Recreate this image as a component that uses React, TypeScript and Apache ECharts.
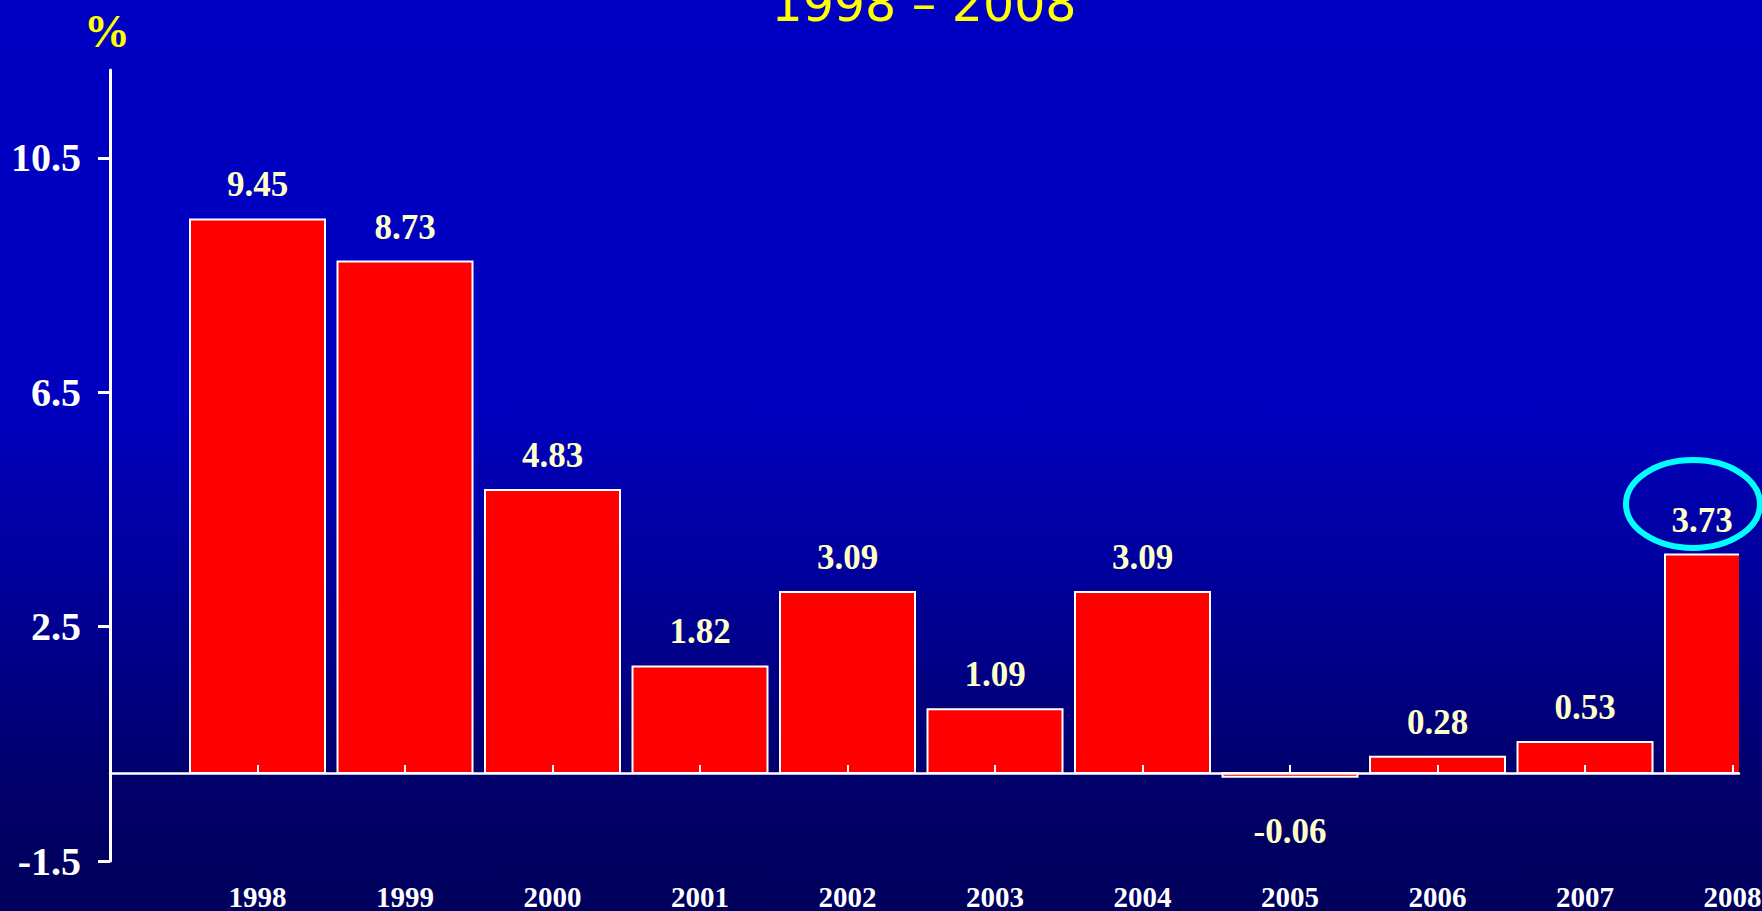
import React, { useEffect, useRef } from 'react';
import * as echarts from 'echarts';

const years = ['1998', '1999', '2000', '2001', '2002', '2003', '2004', '2005', '2006', '2007', '2008'];
const growth = [9.45, 8.73, 4.83, 1.82, 3.09, 1.09, 3.09, -0.06, 0.28, 0.53, 3.73];
const yTickValues = [-1.5, 2.5, 6.5, 10.5];
const titleText = '1998 – 2008';
const unitText = '%';

export default function App() {
  const ref = useRef<HTMLDivElement>(null);
  useEffect(() => {
    const chart = echarts.init(ref.current as HTMLDivElement, null, { renderer: 'svg' });
    const serif = "'Liberation Serif', 'Times New Roman', serif";
    const xIdx = years.map((_, i) => i);
    const barWidth = 135;
    chart.setOption({
      animation: false,
      backgroundColor: {
        type: 'linear', x: 0, y: 0, x2: 0, y2: 1,
        colorStops: [
          { offset: 0, color: '#0000C2' },
          { offset: 0.45, color: '#0000BE' },
          { offset: 0.68, color: '#000092' },
          { offset: 0.87, color: '#000068' },
          { offset: 1, color: '#00005C' },
        ],
      },
      grid: { left: 110, right: 23, top: 70, bottom: 50, outerBoundsMode: 'none', containLabel: false },
      xAxis: [
        {
          type: 'value', min: -1, max: 10.044, z: 5,
          axisLine: { show: true, onZero: true, lineStyle: { color: '#FFFFFF', width: 2.5 } },
          axisTick: { show: true, inside: true, length: 8, customValues: xIdx, lineStyle: { color: '#FFFFFF', width: 2 } },
          axisLabel: { show: false },
          splitLine: { show: false },
        },
        {
          type: 'value', min: -1, max: 10.044, position: 'bottom', z: 5,
          axisLine: { show: false, onZero: false },
          axisTick: { show: false },
          axisLabel: {
            customValues: xIdx,
            formatter: (v: number) => years[Math.round(v)] ?? '',
            color: '#FFFFFF', fontFamily: serif, fontWeight: 'bold', fontSize: 29, lineHeight: 24, margin: 24,
          },
          splitLine: { show: false },
        },
      ],
      yAxis: {
        type: 'value', min: -1.5, max: 12,
        axisLine: { show: true, onZero: false, lineStyle: { color: '#FFFFFF', width: 3 } },
        axisTick: { show: true, length: 12, customValues: yTickValues, lineStyle: { color: '#FFFFFF', width: 3 } },
        axisLabel: {
          customValues: yTickValues,
          formatter: (v: number) => String(v),
          color: '#FFFFFF', fontFamily: serif, fontWeight: 'bold', fontSize: 40, margin: 29,
        },
        splitLine: { show: false },
      },
      series: [{
        type: 'custom',
        clip: true,
        xAxisIndex: 0,
        data: growth.map((v, i) => [i, v]),
        renderItem: (params: any, api: any) => {
          const i = api.value(0) as number;
          const v = api.value(1) as number;
          const base = api.coord([i, 0]);
          const end = api.coord([i, v]);
          const rect = {
            x: base[0] - barWidth / 2,
            y: Math.min(base[1], end[1]),
            width: barWidth,
            height: Math.abs(end[1] - base[1]),
          };
          const cs = params.coordSys;
          const vis = echarts.graphic.clipRectByRect(
            { ...rect },
            { x: cs.x, y: cs.y, width: cs.width, height: cs.height }
          );
          const cx = vis ? vis.x + vis.width / 2 : base[0];
          const neg = v < 0;
          return {
            type: 'group',
            children: [
              { type: 'rect', shape: rect, style: { fill: '#FF0000', stroke: '#FFFFFF', lineWidth: 2 } },
              {
                type: 'text',
                x: cx,
                y: neg ? rect.y + rect.height + 37 : rect.y - 17,
                style: {
                  text: growth[params.dataIndex].toFixed(2),
                  fill: '#FFFFC8',
                  font: `bold 35px ${serif}`,
                  align: 'center',
                  verticalAlign: neg ? 'top' : 'bottom',
                },
              },
            ],
          };
        },
      }],
      graphic: [
        {
          type: 'text', x: 924, y: 4, z: 10,
          style: {
            text: titleText, fill: '#FFFF00', font: '49px "DejaVu Sans", Verdana, sans-serif',
            align: 'center', verticalAlign: 'middle', textAlign: 'center', textVerticalAlign: 'middle',
            textShadowColor: '#000033', textShadowOffsetX: 2, textShadowOffsetY: 2, textShadowBlur: 0,
          },
        },
        {
          type: 'text', x: 107, y: 31, z: 10,
          style: {
            text: unitText, fill: '#FFFF00', font: "bold 46px 'Liberation Serif', 'Times New Roman', serif",
            align: 'center', verticalAlign: 'middle', textAlign: 'center', textVerticalAlign: 'middle',
          },
        },
        {
          type: 'ellipse', z: 10,
          shape: { cx: 1693, cy: 504, rx: 67, ry: 44 },
          style: { fill: 'none', stroke: '#00FFFF', lineWidth: 6 },
        },
      ],
    });
    return () => chart.dispose();
  }, []);
  return <div ref={ref} style={{ position: 'fixed', left: 0, top: 0, width: 1762, height: 911 }} />;
}
